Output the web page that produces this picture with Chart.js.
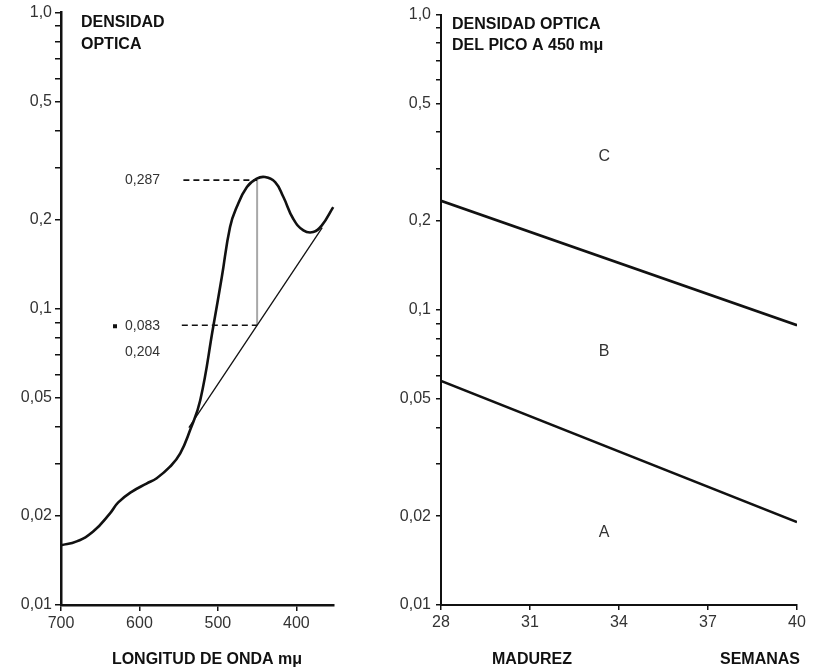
<!DOCTYPE html>
<html><head><meta charset="utf-8">
<script src="https://cdn.jsdelivr.net/npm/chart.js@4"></script>
<style>
html,body{margin:0;padding:0;background:#fff;}
#wrap{position:relative;width:819px;height:671px;overflow:hidden;}
#c1{position:absolute;left:0;top:0;}
#c2{position:absolute;left:400px;top:0;}
</style></head><body>
<div id="wrap"><canvas id="c1" width="400" height="671"></canvas><canvas id="c2" width="419" height="671"></canvas></div>
<script>
// ---- Left panel: absorption spectrum ----
const wavelengths = [700, 680, 659, 637.5, 627, 610, 591, 578, 561, 548, 535.5, 522.5, 506, 495, 484.5, 476, 463, 450.5, 440, 427, 416.5, 404, 391, 378.5, 367.5, 353];
const absorbance  = [0.0159, 0.0164, 0.0177, 0.0204, 0.0222, 0.0241, 0.0257, 0.0268, 0.0293, 0.0325, 0.0389, 0.0491, 0.0868, 0.128, 0.189, 0.2205, 0.2576, 0.2749, 0.2784, 0.2678, 0.2384, 0.2014, 0.184, 0.1816, 0.1912, 0.2205];
const baselineWavelengths = [537, 367];
const baselineValues = [0.0397, 0.188];
const peakWavelength = 450;
const peakLevel = 0.272;
const baseLevel = 0.088;
const dashStartUpper = 544;
const dashStartLower = 546;
const peakLabels = ['0,287', '0,083', '0,204'];
const xTicksLeft = [700, 600, 500, 400];

// ---- Right panel: optical density vs maturity ----
const weeks = [28, 40];
const upperBoundary = [0.234, 0.0887];
const lowerBoundary = [0.0574, 0.0191];
const zoneLabels = ['C', 'B', 'A'];
const zoneValues = [0.33, 0.072, 0.0176];
const zoneWeek = 33.5;
const xTicksRight = [28, 31, 34, 37, 40];

// ---- shared log axis ticks ----
const yTickValues = [0.01,0.02,0.03,0.04,0.05,0.06,0.07,0.08,0.09,0.1,0.2,0.3,0.4,0.5,0.6,0.7,0.8,0.9,1];
const yTickLabels = ['0,01','0,02','','','0,05','','','','','0,1','0,2','','','0,5','','','','','1,0'];

const FONT = '"Liberation Sans", Arial, sans-serif';
const INK = '#111';

function pts(xs, ys){ return xs.map((x,i)=>({x:x, y:ys[i]})); }

function yScale(width, tickLen, borderW, pad){
  return {
    type:'logarithmic', min:0.01, max:1,
    afterBuildTicks: s => { s.ticks = yTickValues.map(v=>({value:v})); },
    afterFit: s => { s.width = width; },
    ticks:{ callback:(v,i)=>yTickLabels[i], autoSkip:false, font:{family:FONT, size:16}, color:'#333', padding:pad },
    grid:{ drawOnChartArea:false, drawTicks:true, tickLength:tickLen, color:INK, lineWidth:1.5 },
    border:{ display:true, color:INK, width:borderW }
  };
}
function xScale(min, max, reverse, ticks, tickLen, borderW){
  return {
    type:'linear', min:min, max:max, reverse:reverse,
    afterBuildTicks: s => { s.ticks = ticks.map(v=>({value:v})); },
    afterFit: s => { s.height = 66; },
    ticks:{ callback:v=>String(v), autoSkip:false, maxRotation:0, font:{family:FONT, size:16}, color:'#333', padding:3 },
    grid:{ drawOnChartArea:false, drawTicks:true, tickLength:tickLen, color:INK, lineWidth:1.5 },
    border:{ display:true, color:INK, width:borderW }
  };
}

const leftText = {
  id:'leftText',
  afterDraw(chart){
    const ctx = chart.ctx, ys = chart.scales.y;
    ctx.save();
    ctx.fillStyle = INK;
    ctx.textBaseline = 'middle';
    ctx.font = 'bold 16px ' + FONT;
    ctx.textAlign = 'left';
    ctx.fillText('DENSIDAD', 81, 23);
    ctx.fillText('OPTICA', 81, 45);
    ctx.textAlign = 'center';
    ctx.fillText('LONGITUD DE ONDA mμ', 207, 660);
    ctx.font = '14px ' + FONT;
    ctx.fillStyle = '#333';
    ctx.textAlign = 'right';
    const y1 = ys.getPixelForValue(peakLevel);
    const y2 = ys.getPixelForValue(baseLevel);
    ctx.fillText(peakLabels[0], 160, y1);
    ctx.fillText(peakLabels[1], 160, y2 + 1);
    ctx.fillText(peakLabels[2], 160, y2 + 27);
    ctx.fillStyle = INK;
    ctx.fillRect(113, y2 - 1, 4, 4);
    ctx.restore();
  }
};

const rightText = {
  id:'rightText',
  afterDraw(chart){
    const ctx = chart.ctx, xs = chart.scales.x, ys = chart.scales.y;
    ctx.save();
    ctx.fillStyle = INK;
    ctx.textBaseline = 'middle';
    ctx.font = 'bold 16px ' + FONT;
    ctx.textAlign = 'left';
    ctx.fillText('DENSIDAD OPTICA', 52, 25);
    ctx.fillText('DEL PICO A 450 mμ', 52, 46);
    ctx.textAlign = 'center';
    ctx.fillText('MADUREZ', 132, 660);
    ctx.fillText('SEMANAS', 360, 660);
    ctx.font = '16px ' + FONT;
    ctx.fillStyle = '#333';
    zoneLabels.forEach((t,i)=>{
      ctx.fillText(t, xs.getPixelForValue(zoneWeek), ys.getPixelForValue(zoneValues[i]));
    });
    ctx.restore();
  }
};

const common = {
  responsive:false, animation:false,
  plugins:{ legend:{display:false}, tooltip:{enabled:false} },
  elements:{ point:{radius:0} }
};

new Chart(document.getElementById('c1'), {
  type:'line',
  data:{ datasets:[
    { data: pts(wavelengths, absorbance), borderColor:INK, borderWidth:2.6, tension:0.45, fill:false, clip:false },
    { data: pts(baselineWavelengths, baselineValues), borderColor:INK, borderWidth:1.3, fill:false, clip:false },
    { data: [{x:dashStartUpper,y:peakLevel},{x:peakWavelength,y:peakLevel}], borderColor:INK, borderWidth:1.6, borderDash:[6,4], fill:false },
    { data: [{x:dashStartLower,y:baseLevel},{x:peakWavelength,y:baseLevel}], borderColor:INK, borderWidth:1.6, borderDash:[6,4], fill:false },
    { data: [{x:peakWavelength,y:baseLevel},{x:peakWavelength,y:peakLevel}], borderColor:'#a8a8a8', borderWidth:2, fill:false }
  ]},
  options: Object.assign({}, common, {
    layout:{ padding:{ top:12, right:66, left:0, bottom:0 } },
    scales:{ x: xScale(352, 700, true, xTicksLeft, 6, 2.5), y: yScale(61, 6, 2.5, 3) }
  }),
  plugins:[leftText]
});

new Chart(document.getElementById('c2'), {
  type:'line',
  data:{ datasets:[
    { data: pts(weeks, upperBoundary), borderColor:INK, borderWidth:2.6, fill:false },
    { data: pts(weeks, lowerBoundary), borderColor:INK, borderWidth:2.6, fill:false }
  ]},
  options: Object.assign({}, common, {
    layout:{ padding:{ top:12, right:22, left:0, bottom:0 } },
    scales:{ x: xScale(28, 40, false, xTicksRight, 5, 2), y: yScale(41, 5, 2, 5) }
  }),
  plugins:[rightText]
});
</script>
</body></html>
